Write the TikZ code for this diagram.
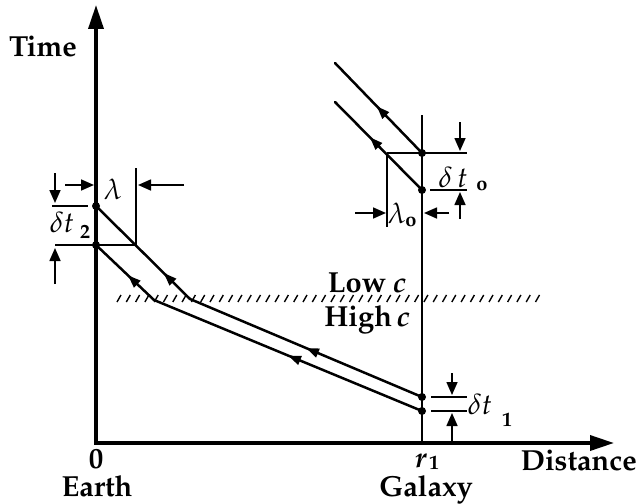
\documentclass[tikz,border=0pt]{standalone}
\usepackage[T1]{fontenc}
\usepackage{mathpazo}
\usetikzlibrary{arrows.meta,decorations.markings}
\begin{document}
\begin{tikzpicture}[x=1pt,y=-1pt,
  axisline/.style={line width=3.5pt, line join=miter, {Triangle[length=24pt,width=15pt]}-{Triangle[length=24pt,width=15pt]}},
  ray/.style={line width=2.5pt, line cap=round},
  thinline/.style={line width=1.6pt},
  dim/.style={line width=1.6pt, -{Triangle[length=13pt,width=11pt]}},
  dot/.style={circle, fill, inner sep=0pt, minimum size=8pt},
  lbl/.style={font=\fontsize{29}{32}\selectfont\bfseries, inner sep=0pt},
  sub/.style={font=\fontsize{20}{22}\selectfont\bfseries, inner sep=0pt},
  mid/.style={postaction={decorate}, decoration={markings, mark=at position #1 with {\arrow{Triangle[length=13pt,width=9pt]}}}}
]
\useasboundingbox (0,0) rectangle (639,503);
% axes
\coordinate (O) at (96,443);
\coordinate (Ttop) at (96,5);
\coordinate (Xend) at (614,443);
\draw[axisline] (Ttop) -- (O) -- (Xend);
% galaxy world line
\coordinate (Gtop) at (422,115);
\coordinate (Gbot) at (422,443);
\draw[thinline] (Gtop) -- (Gbot);
% hatched boundary
\foreach \x in {117,126.3,...,540} \draw[line width=1.4pt] (\x,302) -- (\x+4,295);
% dots
\node[dot] (E1) at (96,206) {};
\node[dot] (E2) at (96,245) {};
\node[dot] (G1) at (422,397) {};
\node[dot] (G2) at (422,411) {};
\node[dot] (GT1) at (422,153) {};
\node[dot] (GT2) at (422,190) {};
\coordinate (B1) at (190,299);
\coordinate (B2) at (154,300);
\coordinate (T1) at (335,63);
\coordinate (T2) at (335,102);
% rays
\draw[ray, mid=0.5] (G1.center) -- (B1);
\draw[ray, mid=0.28] (B1) -- (E1.center);
\draw[ray, mid=0.5] (G2.center) -- (B2);
\draw[ray, mid=0.45] (B2) -- (E2.center);
\draw[ray, mid=0.52] (GT1.center) -- (T1);
\draw[ray, mid=0.6] (GT2.center) -- (T2);
% top-right construction
\draw[thinline] (387,153) -- (467,153);
\draw[thinline] (387,153) -- (387,227);
\draw[thinline] (430,190) -- (467,190);
\draw[dim] (460,122) -- (460,151);
\draw[dim] (460,219) -- (460,192);
\draw[dim] (355,213) -- (386,213);
\draw[dim] (449,213) -- (424,213);
% left construction
\draw[thinline] (52,206) -- (88,206);
\draw[thinline] (55,245) -- (136,245);
\draw[thinline] (136,168) -- (136,245);
\draw[dim] (55,173) -- (55,203);
\draw[dim] (55,284) -- (55,248);
\draw[dim] (65,185) -- (94,185);
\draw[dim] (184,185) -- (138,185);
% bottom-right construction
\draw[thinline] (431,397) -- (467,397);
\draw[thinline] (431,411) -- (467,411);
\draw[dim] (452,373) -- (452,395);
\draw[dim] (452,443) -- (452,413);
% labels
\node[lbl] (time) at (43,47) {Time};
\node[lbl, anchor=base] (zero) at (96,468) {0};
\node[lbl, anchor=base] (earth) at (97,496) {Earth};
\node[lbl, anchor=base] (r) at (421,467) {\textit{r}};
\node[sub, anchor=base] (r1) at (434,469) {1};
\node[lbl, anchor=base] (galaxy) at (426,496) {Galaxy};
\node[lbl, anchor=base east] (dist) at (637,470) {Distance};
\node[lbl] (low) at (367,283) {Low \textit{c}};
\node[lbl] (high) at (367,320) {High\,\textit{c}};
\node[lbl] (lam) at (113,189) {$\lambda$};
\node[lbl] (dt2) at (62,222) {$\delta t$};
\node[sub] (dt2s) at (85,232) {2};
\node[lbl] (dto) at (453,177) {$\delta\, t$};
\node[sub] (dtos) at (482,186) {o};
\node[lbl] (lamo) at (397,213) {$\lambda$};
\node[sub] (lamos) at (411,222) {o};
\node[lbl] (dt1) at (480,404) {$\delta t$};
\node[sub] (dt1s) at (507,420) {1};
\end{tikzpicture}
\end{document}
